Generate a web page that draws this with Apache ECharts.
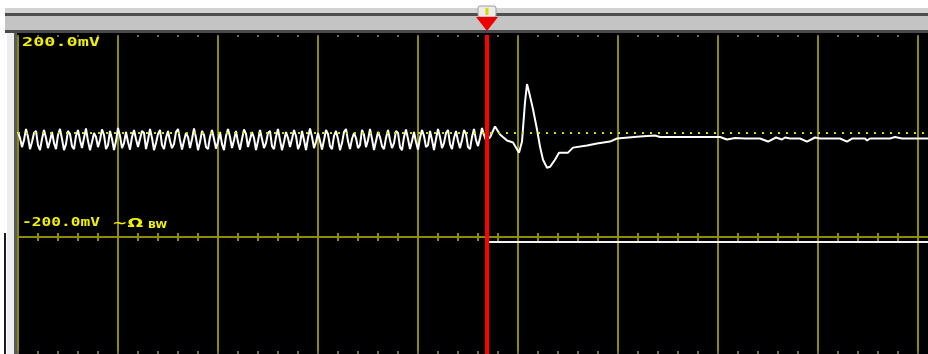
<!DOCTYPE html>
<html>
<head>
<meta charset="utf-8">
<script src="https://cdn.jsdelivr.net/npm/echarts@6/dist/echarts.min.js"></script>
<style>
  html, body { margin: 0; padding: 0; background: #ffffff; }
  #scope { width: 928px; height: 354px; }
</style>
</head>
<body>
<div id="scope"></div>
<script>
// Horizontal unit: screen divisions. Pre-trigger record is sampled every 0.02 div.
const sampleStep = 0.02;

// Channel 1, pre-trigger noise (mV)
const preTriggerMv = [
  8, -4, -22, -8, 14, -2, -26, -12, 6, 10, -18, -28, -6, 12, -4, -24, -10, 8, -14, -26,
  2, 14, -6, -28, -16, 10, 4, -20, -26, 0, 12, -8, -24, -4, 15, -10, -28, -12, 6, -2,
  -22, -8, 13, 2, -26, -18, 10, -6, -28, -10, 16, 0, -24, -14, 8, -12, -27, -2, 12, -6,
  -22, -20, 10, 6, -26, -8, 14, -4, -28, -14, 4, 12, -18, -26, -4, 10, -10, -24, -16, 8,
  14, -8, -27, -10, 6, -2, -24, -6, 15, -4, -28, -12, 10, 2, -22, -26, -2, 12, -6, -25,
  -12, 8, -16, -28, 0, 14, -2, -24, -8, 10, -12, -27, -6, 13, 4, -22, -20, 8, -4, -28,
  -10, 12, -6, -24, -14, 6, 10, -20, -26, -2, 14, -8, -28, -12, 8, -4, -22, -6, 12, 0,
  -26, -16, 10, -8, -28, -4, 15, -2, -24, -12, 6, -10, -27, -8, 12, 4, -20, -26, 0, 10,
  -6, -28, -14, 8, 14, -10, -26, -6, 6, -4, -24, -18, 12, 2, -22, -8, 14, -6, -28, -10,
  8, -2, -20, -26, -4, 12, -8, -24, -14, 10, 6, -22, -28, -2, 13, -6, -26, -10, 8, -12,
  -27, -4, 12, 0, -22, -18, 10, -8, -28, -6, 14, -2, -24, -14, 6, 12, -16, -26, -4, 10,
  -10, -24, -8, 12, 4, -22, -26, -2, 14, -8, -20, -4, 16, 2, -8
];

// Channel 1, post-trigger response (time in div, value in mV)
const responseT = [
  4.72, 4.77, 4.82, 4.89, 4.95, 5.01, 5.04, 5.07, 5.09, 5.12,
  5.15, 5.19, 5.22, 5.25, 5.29, 5.32, 5.37, 5.41, 5.50, 5.55,
  5.69, 5.79, 5.92, 5.99, 6.22, 6.37, 6.42, 6.82, 7.02, 7.09,
  7.17, 7.27, 7.42, 7.50, 7.58, 7.64, 7.67, 7.72, 7.82, 7.89,
  7.97, 8.02, 8.22, 8.29, 8.34, 8.47, 8.49, 8.52, 8.72, 8.77,
  8.84, 9.10
];
const responseMv = [
  -3, 19, 3, -9, -13, -33, -11, 67, 103, 79,
  53, 13, -21, -47, -63, -61, -47, -33, -33, -23,
  -19, -15, -11, -5, -1, 1, -2, -2, -2, -7,
  -4, -5, -5, -11, -3, -7, -3, -5, -5, -11,
  -3, -5, -5, -11, -5, -5, -9, -5, -5, -2,
  -5, -5
];

// Trigger position (div) and trigger level (mV)
const triggerT = 4.69;
const triggerLevelMv = 6;

// Channel 1 vertical scale and its readouts
const scaleTopMv = 200;
const scaleBottomMv = -200;
const scaleLabels = ['200.0mV', '-200.0mV'];
const channelFlags = ['~Ω', 'BW'];

// Logic trace in the lower pane
const logicT = [4.71, 9.1];
const logicLevel = [1, 1];

// Screen extent in divisions; graticule subdivisions
const screenStart = 0;
const screenEnd = 9.1;
const majorDiv = 1;
const minorDiv = 0.2;

const GRID = '#8c8c00';
const DOTS = '#6e6e40';
const READOUT = '#f0f000';

const analogData = preTriggerMv.map((v, i) => [+(i * sampleStep).toFixed(2), v])
  .concat(responseT.map((t, i) => [t, responseMv[i]]));
const logicData = logicT.map((t, i) => [t, logicLevel[i]]);

const chart = echarts.init(document.getElementById('scope'), null, { renderer: 'canvas' });

// Every horizontal axis shares the screen's time extent
function timeAxis(gridIndex, step, color, opts) {
  return Object.assign({
    type: 'value',
    gridIndex: gridIndex,
    min: screenStart,
    max: screenEnd,
    interval: step,
    axisLabel: { show: false },
    axisLine: { show: false, onZero: false },
    axisTick: { show: false },
    splitLine: { show: true, showMinLine: true, showMaxLine: false, lineStyle: { color: color, width: 2 } }
  }, opts);
}
function hiddenY(gridIndex, min, max) {
  return { type: 'value', gridIndex: gridIndex, min: min, max: max, show: false };
}

const option = {
  // the screen itself is black; the window frame is drawn on top as graphics
  backgroundColor: '#000000',
  animation: false,
  grid: [
    { left: 18, right: 0, top: 35, height: 202, show: false, outerBoundsMode: 'none' },   // channel 1
    { left: 18, right: 0, top: 237, bottom: 0, show: false, outerBoundsMode: 'none' },    // logic pane
    { left: 18, right: 0, top: 233, height: 8, show: false, outerBoundsMode: 'none' },    // centre-line ticks
    { left: 18, right: 0, top: 35, height: 2, show: false, outerBoundsMode: 'none' },     // top edge dots
    { left: 18, right: 0, top: 351, height: 3, show: false, outerBoundsMode: 'none' }     // bottom edge dots
  ],
  xAxis: [
    timeAxis(0, majorDiv, GRID, {
      position: 'bottom',
      axisLine: { show: true, onZero: false, lineStyle: { color: GRID, width: 2 } }
    }),
    timeAxis(1, majorDiv, GRID),
    timeAxis(2, minorDiv, GRID),
    timeAxis(3, minorDiv, DOTS),
    timeAxis(4, minorDiv, DOTS)
  ],
  yAxis: [
    hiddenY(0, scaleBottomMv, scaleTopMv),
    hiddenY(1, 0, 1.045),
    hiddenY(2, 0, 1),
    hiddenY(3, 0, 1),
    hiddenY(4, 0, 1)
  ],
  series: [
    {
      name: 'CH1',
      type: 'line',
      xAxisIndex: 0,
      yAxisIndex: 0,
      z: 4,
      data: analogData,
      showSymbol: false,
      lineStyle: { color: '#ffffff', width: 2 },
      markLine: {
        silent: true,
        symbol: 'none',
        label: { show: false },
        data: [
          { yAxis: triggerLevelMv, lineStyle: { color: '#d8d800', width: 2, type: [2, 6] } },
          { xAxis: triggerT, lineStyle: { color: '#ff0000', width: 4, type: 'solid' } }
        ]
      }
    },
    {
      name: 'Logic',
      type: 'line',
      xAxisIndex: 1,
      yAxisIndex: 1,
      z: 4,
      data: logicData,
      showSymbol: false,
      lineStyle: { color: '#f4f4f4', width: 2 },
      markLine: {
        silent: true,
        symbol: 'none',
        label: { show: false },
        data: [
          { xAxis: triggerT, lineStyle: { color: '#ff0000', width: 4, type: 'solid' } }
        ]
      }
    }
  ]
};

chart.setOption(option);

// Readout text is stretched to the scope's wide bitmap lettering
const measureCtx = document.createElement('canvas').getContext('2d');
function stretch(text, font, width) {
  measureCtx.font = font;
  return width / measureCtx.measureText(text).width;
}

const readoutFont = 'bold 12px "DejaVu Sans Mono"';
const flagFont = 'bold 13px "DejaVu Sans"';
const bwFont = 'bold 9px "DejaVu Sans"';

const xTrig = chart.convertToPixel({ xAxisIndex: 0 }, triggerT);
const pTop = chart.convertToPixel({ gridIndex: 0 }, [screenStart, scaleTopMv]);
const pBot = chart.convertToPixel({ gridIndex: 0 }, [screenStart, scaleBottomMv]);

chart.setOption({
  graphic: [
    // window surround
    { type: 'rect', z: 1, shape: { x: 0, y: 0, width: 928, height: 8 }, style: { fill: '#ffffff' } },
    { type: 'rect', z: 1, shape: { x: 0, y: 0, width: 7, height: 354 }, style: { fill: '#ffffff' } },
    // window frame above the graticule
    { type: 'rect', z: 1, shape: { x: 5, y: 8, width: 923, height: 5 }, style: { fill: '#d2d2d2' } },
    { type: 'rect', z: 1, shape: { x: 5, y: 13, width: 923, height: 3 }, style: { fill: '#4e4e4e' } },
    { type: 'rect', z: 1, shape: { x: 5, y: 16, width: 923, height: 14 }, style: { fill: '#c4c4c4' } },
    { type: 'rect', z: 1, shape: { x: 5, y: 30, width: 923, height: 3 }, style: { fill: '#4a4a4a' } },
    // left frame edge
    { type: 'rect', z: 1, shape: { x: 7, y: 33, width: 8, height: 321 }, style: { fill: '#eceef0' } },
    { type: 'rect', z: 1, shape: { x: 14, y: 33, width: 3, height: 321 }, style: { fill: '#5a5a5a' } },
    { type: 'rect', z: 1, shape: { x: 4, y: 233, width: 2, height: 121 }, style: { fill: '#1a1a1a' } },
    // trigger position marker
    { type: 'rect', z: 2, shape: { x: xTrig - 9, y: 6, width: 18, height: 11, r: 2 }, style: { fill: '#ececec', stroke: '#9c9c9c', lineWidth: 1 } },
    { type: 'rect', z: 3, shape: { x: xTrig - 1.5, y: 8, width: 3, height: 7 }, style: { fill: '#d8d800' } },
    { type: 'polygon', z: 3, shape: { points: [[xTrig - 11, 17], [xTrig + 11, 17], [xTrig, 31]] }, style: { fill: '#ee0000' } },
    // channel readouts
    {
      type: 'text', z: 100, x: pTop[0] + 4, y: pTop[1] + 2,
      scaleX: stretch(scaleLabels[0], readoutFont, 78),
      style: { text: scaleLabels[0], font: readoutFont, fill: READOUT, verticalAlign: 'top', align: 'left' }
    },
    {
      type: 'text', z: 100, x: pBot[0] + 4, y: pBot[1] - 8,
      scaleX: stretch(scaleLabels[1], readoutFont, 78),
      style: { text: scaleLabels[1], font: readoutFont, fill: READOUT, verticalAlign: 'bottom', align: 'left' }
    },
    {
      type: 'text', z: 100, x: pBot[0] + 94, y: pBot[1] - 7,
      scaleX: stretch(channelFlags[0], flagFont, 31),
      style: { text: channelFlags[0], font: flagFont, fill: READOUT, verticalAlign: 'bottom', align: 'left' }
    },
    {
      type: 'text', z: 100, x: pBot[0] + 130, y: pBot[1] - 7,
      scaleX: stretch(channelFlags[1], bwFont, 19),
      style: { text: channelFlags[1], font: bwFont, fill: READOUT, verticalAlign: 'bottom', align: 'left' }
    }
  ]
});
</script>
</body>
</html>
